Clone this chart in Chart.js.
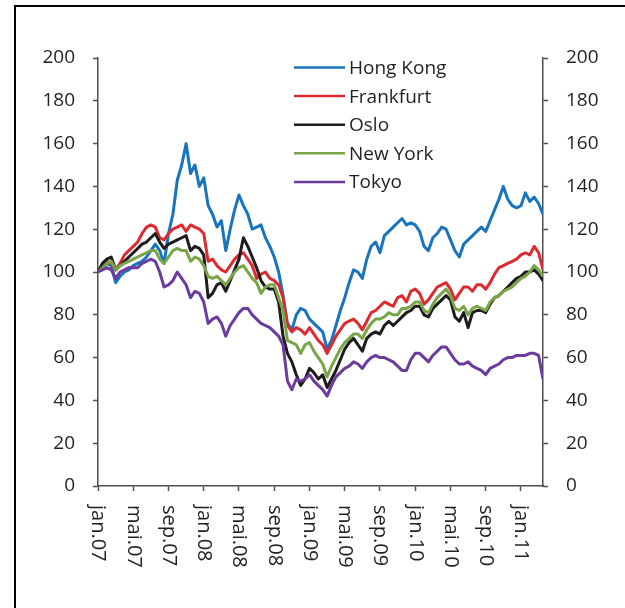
<!DOCTYPE html>
<html>
<head>
<meta charset="utf-8">
<script src="https://cdn.jsdelivr.net/npm/chart.js@4.4.1/dist/chart.umd.min.js"></script>
<style>
    html, body { margin: 0; padding: 0; background: #fff; }
</style>
</head>
<body>
<canvas id="indexChart" width="625" height="608"></canvas>
<script>

// =========================================
// Data (index, jan.07 = 100), half-month steps
// =========================================

// month number counted from jan.07, every half month up to mid-March 2011
const months = Array.from({ length: 102 }, (_, i) => i / 2);

const tickMonths = [0, 4, 8, 12, 16, 20, 24, 28, 32, 36, 40, 44, 48];

const tickLabels = [
    "jan.07", "mai.07", "sep.07",
    "jan.08", "mai.08", "sep.08",
    "jan.09", "mai.09", "sep.09",
    "jan.10", "mai.10", "sep.10",
    "jan.11"
];

const seriesNames = ["Hong Kong", "Frankfurt", "Oslo", "New York", "Tokyo"];

const hongKong = [
    100, 102, 104, 103, 95, 98, 100, 101, 103, 104,
    105, 107, 110, 113, 110, 104, 118, 127, 143, 150,
    160, 146, 150, 140, 144, 131, 127, 121, 124, 110,
    120, 129, 136, 131, 127, 120, 121, 122, 116, 112,
    107, 100, 89, 76, 73, 80, 83, 82, 78, 76,
    74, 72, 64, 68, 75, 82, 88, 95, 101, 100,
    97, 106, 112, 114, 109, 117, 119, 121, 123, 125,
    122, 123, 122, 119, 112, 110, 116, 118, 121, 120,
    115, 110, 107, 113, 115, 117, 119, 121, 119, 124,
    129, 134, 140, 134, 131, 130, 131, 137, 133, 135,
    132, 127
];

const frankfurt = [
    100, 103, 105, 104, 101, 104, 108, 110, 112, 114,
    118, 121, 122, 121, 116, 115, 118, 120, 121, 122,
    119, 122, 121, 120, 118, 105, 106, 103, 101, 100,
    103, 106, 108, 109, 106, 103, 97, 99, 100, 97,
    96, 94, 88, 75, 72, 74, 73, 71, 74, 71,
    68, 66, 62, 66, 70, 73, 76, 77, 78, 76,
    73, 77, 81, 82, 84, 86, 85, 84, 88, 89,
    86, 91, 92, 90, 85, 87, 90, 93, 94, 95,
    92, 87, 90, 93, 93, 91, 94, 94, 92, 95,
    99, 102, 103, 104, 105, 106, 108, 109, 108, 112,
    109, 101
];

const oslo = [
    100, 104, 106, 107, 101, 103, 105, 107, 109, 111,
    113, 114, 116, 118, 114, 111, 113, 114, 115, 116,
    117, 110, 112, 111, 108, 88, 90, 94, 95, 91,
    96, 101, 106, 116, 112, 107, 102, 96, 93, 92,
    92, 86, 70, 62, 58, 52, 47, 50, 55, 53,
    50, 52, 46, 50, 54, 59, 64, 67, 69, 66,
    63, 69, 71, 72, 71, 75, 77, 75, 77, 79,
    81, 82, 84, 84, 80, 79, 83, 85, 87, 89,
    87, 79, 77, 81, 74, 81, 82, 82, 81, 85,
    88, 89, 91, 93, 95, 97, 98, 100, 100, 101,
    99, 96
];

const newYork = [
    100, 102, 104, 105, 101, 103, 104, 105, 106, 107,
    108, 109, 110, 110, 106, 104, 107, 110, 111, 110,
    110, 105, 107, 106, 103, 98, 97, 98, 96, 94,
    97, 100, 102, 103, 100, 97, 95, 90, 93, 94,
    94, 88, 82, 68, 67, 66, 62, 66, 67, 63,
    60, 57, 51, 56, 60, 64, 67, 69, 71, 71,
    69, 73, 76, 78, 78, 79, 81, 80, 80, 83,
    83, 84, 86, 86, 82, 81, 85, 88, 90, 92,
    89, 83, 82, 84, 80, 83, 84, 83, 82, 86,
    88, 89, 91, 92, 93, 95, 97, 98, 100, 103,
    101, 98
];

const tokyo = [
    100, 101, 102, 101, 97, 100, 101, 102, 102, 102,
    104, 105, 106, 105, 100, 93, 94, 96, 100, 97,
    94, 88, 91, 90, 86, 76, 78, 79, 76, 70,
    75, 78, 81, 83, 83, 80, 78, 76, 75, 74,
    72, 70, 66, 49, 45, 50, 49, 50, 52, 49,
    47, 45, 42, 47, 51, 53, 55, 56, 58, 57,
    55, 58, 60, 61, 60, 60, 59, 58, 56, 54,
    54, 59, 62, 62, 60, 58, 61, 63, 65, 65,
    62, 59, 57, 57, 58, 56, 55, 54, 52, 55,
    56, 57, 59, 60, 60, 61, 61, 61, 62, 62,
    61, 50
];

const seriesValues = [hongKong, frankfurt, oslo, newYork, tokyo];

const seriesColors = ["#1874be", "#dc2a2f", "#1e1b1c", "#78a548", "#6c3b9e"];


// =========================================
// Styles
// =========================================

const fontFamily = '"Open Sans", "DejaVu Sans", sans-serif';
const fontSize = 19;
const textColor = "#231f20";
const axisColor = "#4d4d4d";


// =========================================
// Frame, rotated month labels and legend
// =========================================

const decorations = {

    id: "decorations",

    afterDraw(chart) {

        const ctx = chart.ctx;
        const xScale = chart.scales.x;

        ctx.save();

        // frame round the figure (left and top edge are visible)
        ctx.strokeStyle = "#000";
        ctx.lineWidth = 2;
        ctx.beginPath();
        ctx.moveTo(15, 608);
        ctx.lineTo(15, 6);
        ctx.lineTo(625, 6);
        ctx.stroke();

        // month labels, turned to read top-down
        ctx.font = "20px " + fontFamily;
        ctx.fillStyle = textColor;
        ctx.textAlign = "left";
        ctx.textBaseline = "middle";

        tickLabels.forEach((label, i) => {

            const px = xScale.getPixelForValue(tickMonths[i]);

            ctx.save();
            ctx.translate(px, xScale.top + 19);
            ctx.rotate(Math.PI / 2);
            ctx.fillText(label, 0, 0);
            ctx.restore();

        });

        // legend inside the plot
        ctx.font = fontSize + "px " + fontFamily;

        const rowTop = 67.5;
        const rowStep = 28.6;

        seriesNames.forEach((name, i) => {

            const y = rowTop + i * rowStep;

            ctx.strokeStyle = seriesColors[i];
            ctx.lineWidth = 2.5;
            ctx.beginPath();
            ctx.moveTo(294, y);
            ctx.lineTo(345, y);
            ctx.stroke();

            ctx.fillStyle = textColor;
            ctx.fillText(name, 349, y + 1);

        });

        ctx.restore();

    }

};


// =========================================
// Chart
// =========================================

function axisY(position, width) {

    return {

        position: position,

        min: 0,
        max: 200,

        afterFit: (scale) => { scale.width = width; },

        ticks: {
            stepSize: 20,
            padding: 18,
            color: textColor,
            font: { family: fontFamily, size: fontSize }
        },

        grid: {
            drawOnChartArea: false,
            drawTicks: true,
            tickLength: 5,
            tickColor: axisColor,
            tickWidth: 1.5
        },

        border: { color: axisColor, width: 1.5 }

    };

}

const datasets = seriesNames.map((name, i) => ({

    label: name,

    data: seriesValues[i].map((v, k) => ({ x: months[k], y: v })),

    borderColor: seriesColors[i],

    borderWidth: 3,

    borderJoinStyle: "round",

    pointRadius: 0,

    tension: 0,

    // later series on top, like the original
    order: seriesNames.length - i,

    yAxisID: "y"

}));

new Chart(document.getElementById("indexChart"), {

    type: "line",

    data: { datasets: datasets },

    options: {

        responsive: false,

        animation: false,

        layout: { padding: { top: 58, left: 0, right: 0, bottom: 0 } },

        plugins: {
            legend: { display: false },
            tooltip: { enabled: false }
        },

        scales: {

            x: {
                type: "linear",
                min: 0,
                max: 50.5,
                afterBuildTicks: (scale) => {
                    scale.ticks = tickMonths.map(v => ({ value: v }));
                },
                afterFit: (scale) => { scale.height = 122; },
                ticks: { display: false },
                grid: {
                    drawOnChartArea: false,
                    drawTicks: true,
                    tickLength: 5,
                    tickColor: axisColor,
                    tickWidth: 1.5
                },
                border: { color: axisColor, width: 1.5 }
            },

            y: axisY("left", 98),

            y2: axisY("right", 82)

        }

    },

    plugins: [decorations]

});

</script>
</body>
</html>
